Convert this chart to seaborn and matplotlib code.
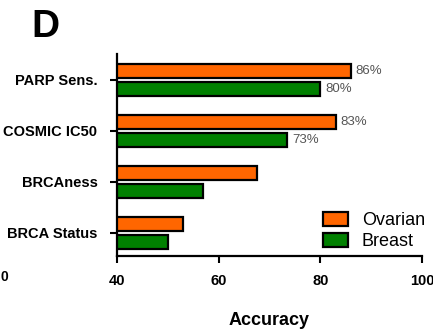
import matplotlib
matplotlib.use("Agg")
import matplotlib.pyplot as plt
import seaborn as sns
import pandas as pd
from matplotlib.patches import Patch

categories = ["PARP Sens.", "COSMIC IC50", "BRCAness", "BRCA Status"]
ovarian = [86, 83, 67.5, 53]
breast = [80, 73.5, 57, 50]
value_labels_ovarian = ["86%", "83%", None, None]
value_labels_breast = ["80%", "73%", None, None]
series = ["Ovarian", "Breast"]
colors = ["#FF6600", "#008000"]
xticks = [40, 60, 80, 100]

df = pd.DataFrame({
    "Test": categories * 2,
    "Accuracy": ovarian + breast,
    "Cancer": [series[0]] * len(categories) + [series[1]] * len(categories),
})

sns.set_style("white")
plt.rcParams["font.family"] = ["Liberation Sans", "DejaVu Sans"]
plt.rcParams["text.color"] = "black"
plt.rcParams["axes.labelcolor"] = "black"
plt.rcParams["xtick.color"] = "black"
plt.rcParams["ytick.color"] = "black"

fig = plt.figure(figsize=(4.33, 3.35), dpi=100)
ax = fig.add_axes([0.270, 0.236, 0.705, 0.603])

sns.barplot(data=df, y="Test", x="Accuracy", hue="Cancer", order=categories,
            hue_order=series, palette=colors, saturation=1, orient="h",
            width=0.7, gap=0.2, edgecolor="black", linewidth=1.6, ax=ax,
            legend=False)

ax.set_xlim(40, 100)
ax.set_ylim(3.45, -0.51)
ax.set_xticks(xticks)
ax.set_xticklabels([str(t) for t in xticks], fontsize=10.5, fontweight="bold")
ax.set_yticks(range(len(categories)))
ax.set_yticklabels(categories, fontsize=10.5, fontweight="bold")
ax.tick_params(axis="both", direction="out", length=5, width=1.5, color="black",
               left=True, bottom=True)
ax.tick_params(axis="x", pad=8)
ax.tick_params(axis="y", pad=9)
ax.set_ylabel("")
ax.set_xlabel("Accuracy", fontsize=13, fontweight="bold", labelpad=17)

for side in ["top", "right"]:
    ax.spines[side].set_visible(False)
for side in ["left", "bottom"]:
    ax.spines[side].set_linewidth(1.6)
    ax.spines[side].set_color("black")

# percentage annotations at the bar ends
bars_ov = ax.containers[0]
bars_br = ax.containers[1]
for bars, labels in [(bars_ov, value_labels_ovarian), (bars_br, value_labels_breast)]:
    for rect, lab in zip(bars, labels):
        if lab is None:
            continue
        ax.text(rect.get_x() + rect.get_width() + 0.9, rect.get_y() + rect.get_height() / 2,
                lab, va="center", ha="left", fontsize=9.5, color="#555555")

handles = [Patch(facecolor=c, edgecolor="black", linewidth=1.6, label=s)
           for c, s in zip(colors, series)]
ax.legend(handles=handles, loc="lower right", bbox_to_anchor=(1.045, -0.025), frameon=False,
          fontsize=13, handlelength=1.4, handleheight=0.85, handletextpad=0.75,
          labelspacing=0.2, borderaxespad=0.2)

fig.text(0.073, 0.92, "D", fontsize=28, fontweight="bold", ha="left", va="center")
fig.text(0.002, 0.172, "0", fontsize=10, fontweight="bold", ha="left", va="center")

fig.savefig("out.png", dpi=100)
